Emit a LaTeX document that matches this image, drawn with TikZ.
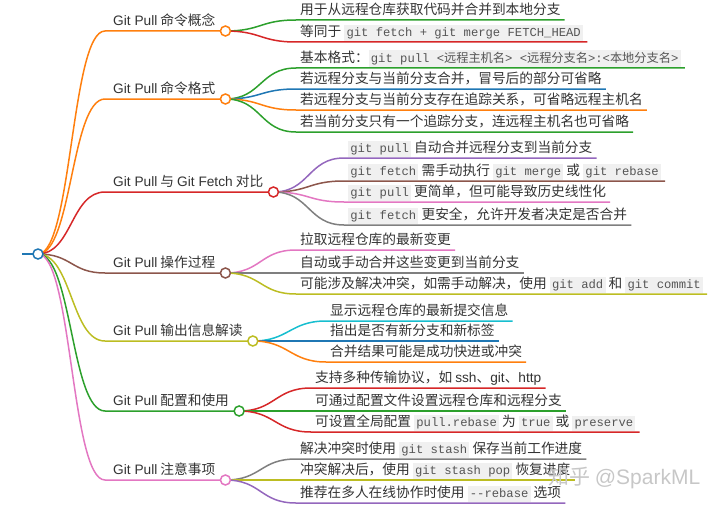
\documentclass[tikz,border=0pt]{standalone}
\usepackage{fontspec}
\setmainfont{Noto Sans CJK SC}
\newfontfamily\lat{Liberation Sans}
\newfontfamily\mono{Liberation Mono}
\newfontfamily\cjkf{Noto Sans CJK SC}
\usetikzlibrary{calc}
\definecolor{cBlue}{HTML}{1F77B4}
\definecolor{cOrange}{HTML}{FF7F0E}
\definecolor{cGreen}{HTML}{2CA02C}
\definecolor{cRed}{HTML}{D62728}
\definecolor{cPurple}{HTML}{9467BD}
\definecolor{cBrown}{HTML}{8C564B}
\definecolor{cPink}{HTML}{E377C2}
\definecolor{cGray}{HTML}{7F7F7F}
\definecolor{cOlive}{HTML}{BCBD22}
\definecolor{cCyan}{HTML}{17BECF}
\definecolor{txt}{HTML}{333333}
\definecolor{codebg}{HTML}{F0F0F0}
\definecolor{codefg}{HTML}{555555}
\newcommand{\codebox}[1]{{\setlength{\fboxsep}{2.2pt}\colorbox{codebg}{\mono\fontsize{12.2}{14}\selectfont\color{codefg}\vphantom{Ag}#1}}}
\pgfdeclarelayer{bg}
\pgfsetlayers{bg,main}
\tikzset{
  leaf/.style={anchor=south west, inner xsep=4pt, inner ysep=2pt, text height=11pt, text depth=3.5pt, text=txt, font=\fontsize{13.7}{16}\selectfont},
  title/.style={anchor=south west, inner xsep=8pt, inner ysep=2pt, text height=11pt, text depth=3.5pt, text=txt, font=\fontsize{13.7}{16}\selectfont},
  dot/.style={circle, draw, fill=white, line width=1.5pt, minimum size=10pt, inner sep=0pt},
  link/.style={line width=1.5pt},
}
\begin{document}
\begin{tikzpicture}[x=1pt,y=-1pt]
\useasboundingbox (0,0) rectangle (720,511);
% root
\coordinate (stub) at (22,254);
\node[dot, draw=cBlue] (root) at (38,254) {};
% titles
\node[title] (t1) at (105,31) {{\lat Git Pull} 命令概念};
\node[title] (t2) at (105,99) {{\lat Git Pull} 命令格式};
\node[title] (t3) at (105,192) {{\lat Git Pull} 与 {\lat Git Fetch} 对比};
\node[title] (t4) at (105,273) {{\lat Git Pull} 操作过程};
\node[title] (t5) at (105,341) {{\lat Git Pull} 输出信息解读};
\node[title] (t6) at (105,411) {{\lat Git Pull} 配置和使用};
\node[title] (t7) at (105,480) {{\lat Git Pull} 注意事项};
\foreach \i/\c in {1/cOrange,2/cOrange,3/cRed,4/cBrown,5/cOlive,6/cGreen,7/cPink}{
  \node[dot, draw=\c] (d\i) at ([xshift=2pt]t\i.south east) {};
}
% leaves
\node[leaf] (l11) at (296,20) {用于从远程仓库获取代码并合并到本地分支};
\node[leaf] (l12) at (296,42) {等同于 \codebox{git fetch + git merge FETCH\_HEAD}};
\node[leaf] (l21) at (296,68) {基本格式：\codebox{git pull <{\cjkf 远程主机名}> <{\cjkf 远程分支名}>:<{\cjkf 本地分支名}>}};
\node[leaf] (l22) at (296,89) {若远程分支与当前分支合并，冒号后的部分可省略};
\node[leaf] (l23) at (296,110) {若远程分支与当前分支存在追踪关系，可省略远程主机名};
\node[leaf] (l24) at (296,132) {若当前分支只有一个追踪分支，连远程主机名也可省略};
\node[leaf] (l31) at (344,158) {\codebox{git pull} 自动合并远程分支到当前分支};
\node[leaf] (l32) at (344,181) {\codebox{git fetch} 需手动执行 \codebox{git merge} 或 \codebox{git rebase}};
\node[leaf] (l33) at (344,202) {\codebox{git pull} 更简单，但可能导致历史线性化};
\node[leaf] (l34) at (344,225) {\codebox{git fetch} 更安全，允许开发者决定是否合并};
\node[leaf] (l41) at (296,250) {拉取远程仓库的最新变更};
\node[leaf] (l42) at (296,273) {自动或手动合并这些变更到当前分支};
\node[leaf] (l43) at (296,294) {可能涉及解决冲突，如需手动解决，使用 \codebox{git add} 和 \codebox{git commit}};
\node[leaf] (l51) at (326,321) {显示远程仓库的最新提交信息};
\node[leaf] (l52) at (326,341) {指出是否有新分支和新标签};
\node[leaf] (l53) at (326,362) {合并结果可能是成功快进或冲突};
\node[leaf] (l61) at (311,388) {支持多种传输协议，如 {\lat ssh}、{\lat git}、{\lat http}};
\node[leaf] (l62) at (311,411) {可通过配置文件设置远程仓库和远程分支};
\node[leaf] (l63) at (311,432) {可设置全局配置 \codebox{pull.rebase} 为 \codebox{true} 或 \codebox{preserve}};
\node[leaf] (l71) at (296,459) {解决冲突时使用 \codebox{git stash} 保存当前工作进度};
\node[leaf] (l72) at (296,480) {冲突解决后，使用 \codebox{git stash pop} 恢复进度};
\node[leaf] (l73) at (296,503) {推荐在多人在线协作时使用 \codebox{-{}-rebase} 选项};
% watermark
\node[anchor=west, text=black!22, inner sep=0pt, font=\fontsize{21}{25}\selectfont] (wm) at (548,478) {知乎 {\lat @SparkML}};
\begin{pgfonlayer}{bg}
\draw[link, cBlue] (stub) -- (root.center);
\foreach \i/\c in {1/cOrange,2/cOrange,3/cRed,4/cBrown,5/cOlive,6/cGreen,7/cPink}{
  \draw[link, \c] (root.center) .. controls +(34,0) and +(-34,0) .. (t\i.south west) -- (d\i.center);
}
\foreach \p/\l/\c in {1/11/cGreen,1/12/cRed,
                      2/21/cGreen,2/22/cBlue,2/23/cOrange,2/24/cGreen,
                      3/31/cPurple,3/32/cBrown,3/33/cPink,3/34/cGray,
                      4/41/cPink,4/42/cGray,4/43/cOlive,
                      5/51/cCyan,5/52/cBlue,5/53/cOrange,
                      6/61/cRed,6/62/cGreen,6/63/cRed,
                      7/71/cGray,7/72/cOlive,7/73/cPurple}{
  \draw[link, \c] (d\p.center) .. controls +(36,0) and +(-36,0) .. (l\l.south west) -- (l\l.south east);
}
\end{pgfonlayer}
\end{tikzpicture}
\end{document}
